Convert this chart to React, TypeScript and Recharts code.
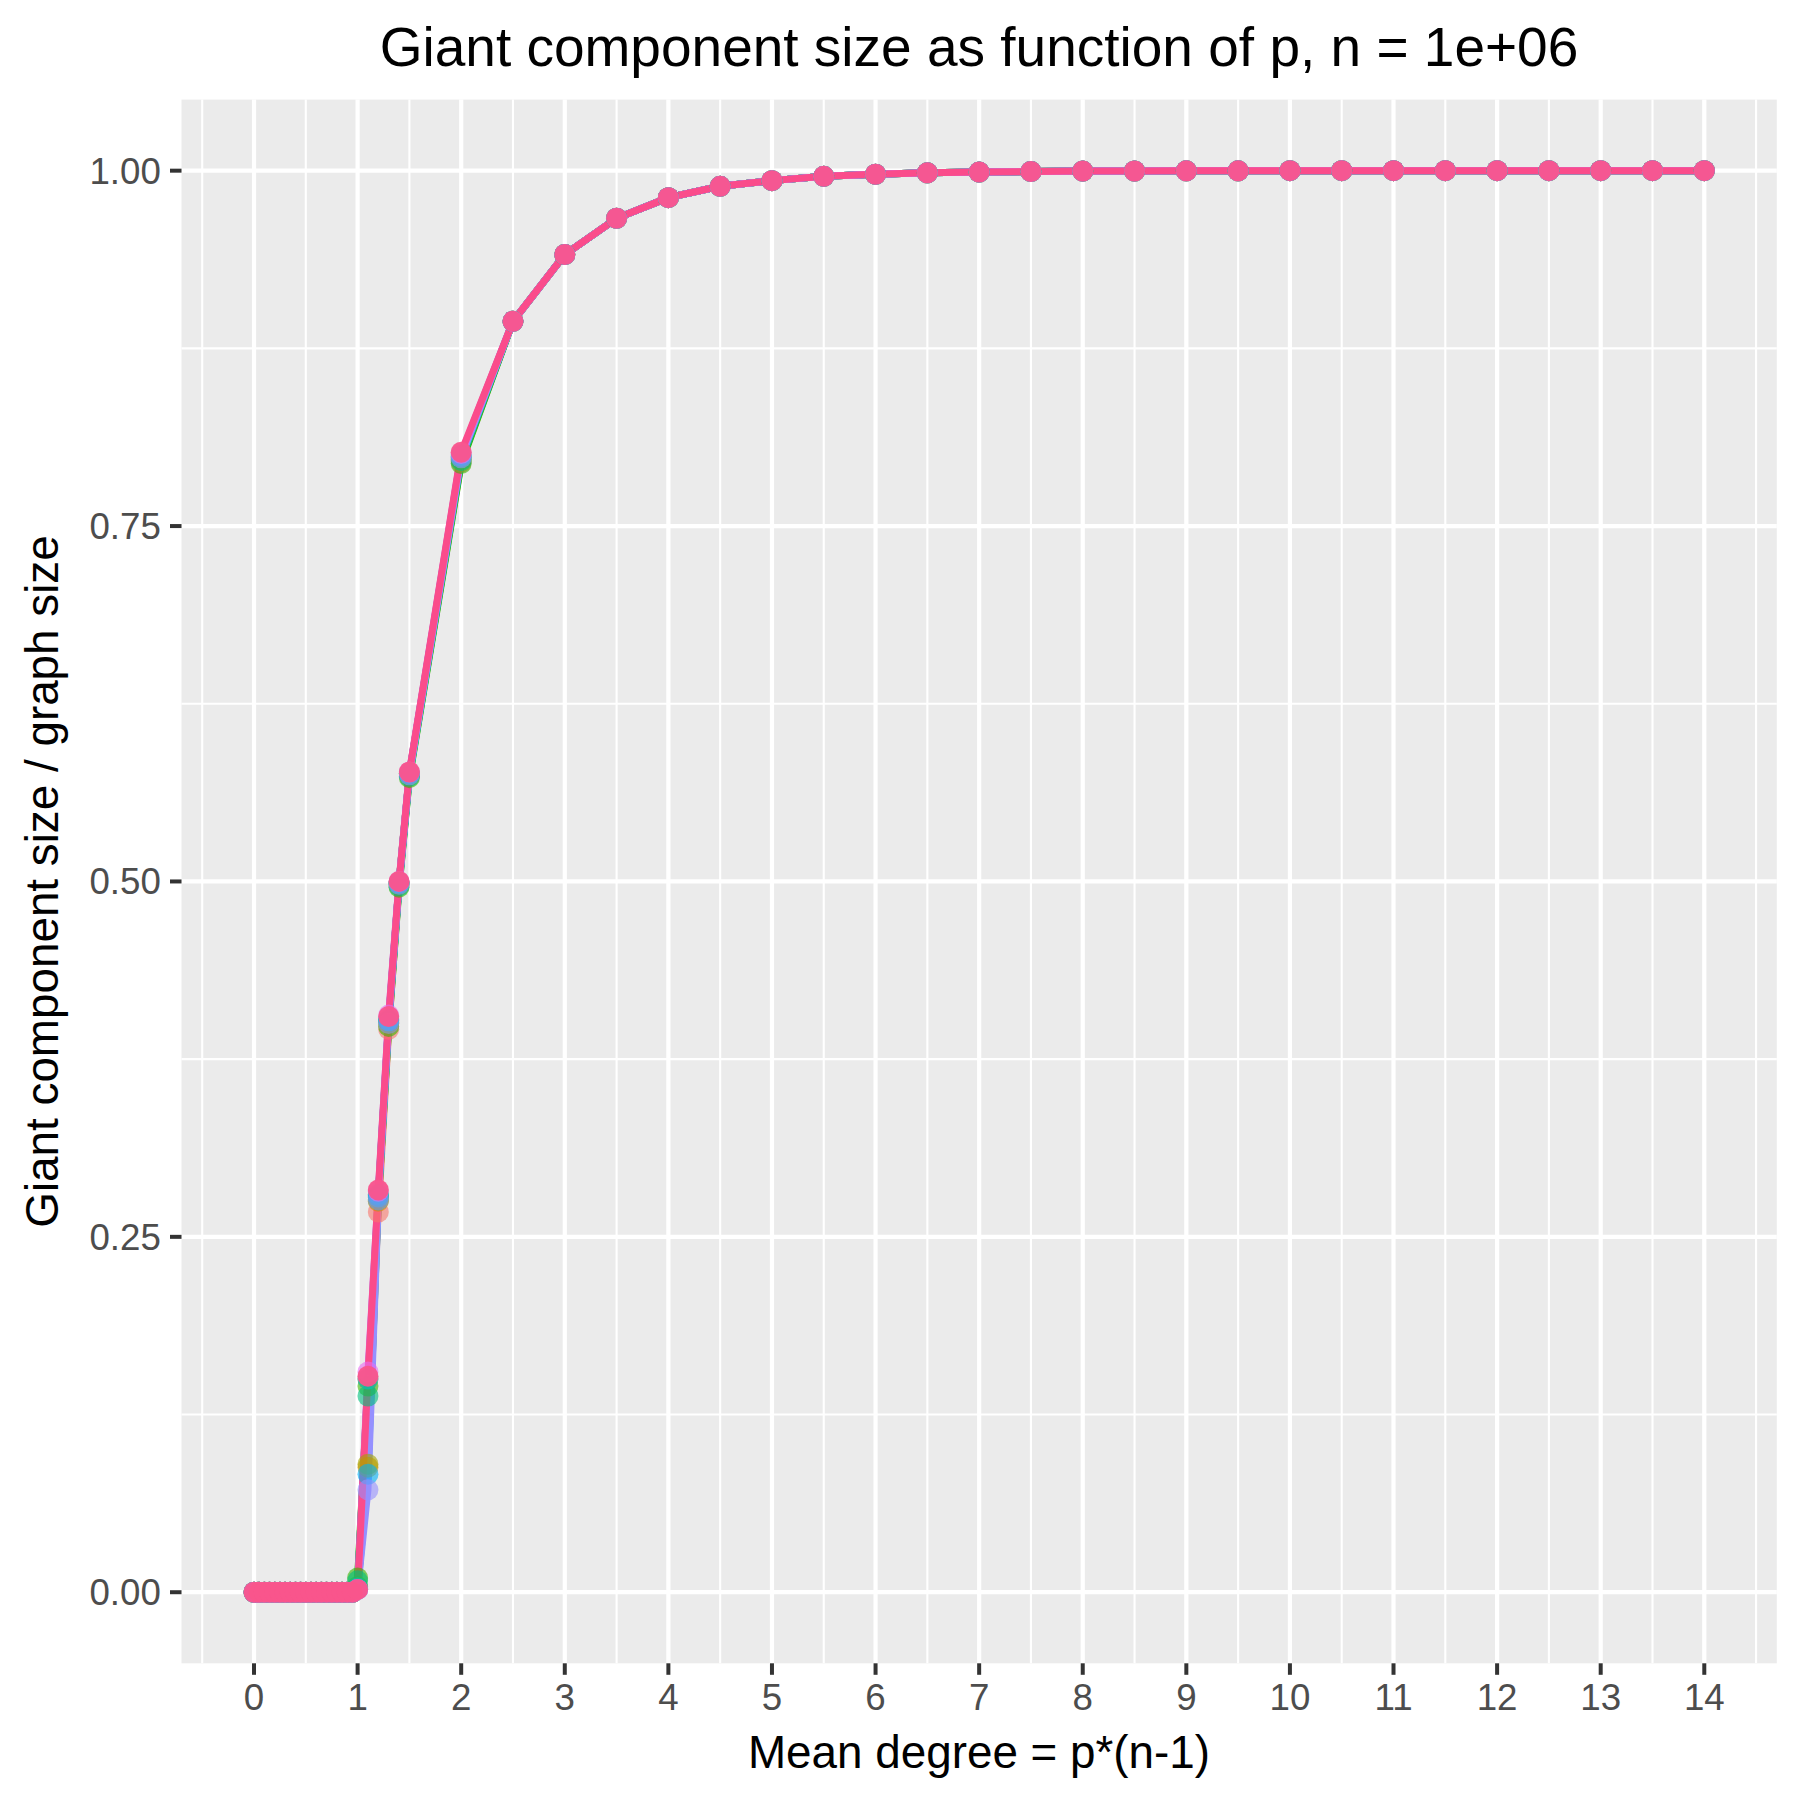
import { ComposedChart, Line, XAxis, YAxis, CartesianGrid } from 'recharts';

// mean degree p*(n-1) at which the graphs were sampled
const meanDegree = [
  0, 0.05, 0.1, 0.15, 0.2, 0.25, 0.3, 0.35, 0.4, 0.45,
  0.5, 0.55, 0.6, 0.65, 0.7, 0.75, 0.8, 0.85, 0.9, 0.95,
  1, 1.1, 1.2, 1.3, 1.4, 1.5, 2,
  2.5, 3, 3.5, 4, 4.5, 5, 5.5, 6, 6.5, 7, 7.5, 8, 8.5, 9,
  9.5, 10, 10.5, 11, 11.5, 12, 12.5, 13, 13.5, 14,
];

// 0 .. 0.95: no giant component in any run
const subcritical = [0, 0, 0, 0, 0, 0, 0, 0, 0, 0, 0, 0, 0, 0, 0, 0, 0, 0, 0, 0];

// 2.5 .. 14: all runs overlap here
const saturated = [
  0.894, 0.941, 0.9665, 0.981, 0.989, 0.993, 0.996, 0.9975, 0.9985, 0.999,
  0.9994, 0.9997, 0.9998, 0.9999, 0.9999, 1, 1, 1, 1, 1, 1, 1, 1, 1,
];

// 1, 1.1, 1.2, 1.3, 1.4, 1.5, 2 for each run
const run1 = [0.003, 0.15, 0.2675, 0.396, 0.498, 0.575, 0.795];
const run2 = [0.003, 0.088, 0.275, 0.4, 0.499, 0.576, 0.797];
const run3 = [0.004, 0.09, 0.278, 0.401, 0.499, 0.576, 0.798];
const run4 = [0.01, 0.145, 0.276, 0.398, 0.496, 0.573, 0.794];
const run5 = [0.008, 0.138, 0.279, 0.402, 0.497, 0.574, 0.796];
const run6 = [0.003, 0.15, 0.28, 0.403, 0.499, 0.576, 0.8];
const run7 = [0.002, 0.083, 0.278, 0.402, 0.499, 0.576, 0.799];
const run8 = [0.002, 0.072, 0.276, 0.4, 0.498, 0.575, 0.798];
const run9 = [0.002, 0.155, 0.282, 0.406, 0.5, 0.577, 0.801];
const run10 = [0.002, 0.152, 0.283, 0.405, 0.5, 0.577, 0.802];

const transitions = [run1, run2, run3, run4, run5, run6, run7, run8, run9, run10];
const runColors = [
  '#F8766D', '#D89000', '#A3A500', '#39B600', '#00BF7D',
  '#00BFC4', '#00B0F6', '#9590FF', '#E76BF3', '#FA4C8B',
];

const xTicks = [0, 1, 2, 3, 4, 5, 6, 7, 8, 9, 10, 11, 12, 13, 14];
const xMinor = [-0.5, 0.5, 1.5, 2.5, 3.5, 4.5, 5.5, 6.5, 7.5, 8.5, 9.5, 10.5, 11.5, 12.5, 13.5, 14.5];
const yTicks = [0, 0.25, 0.5, 0.75, 1];
const yMinor = [0.125, 0.375, 0.625, 0.875];

const rows = meanDegree.map((x, i) => {
  const row: Record<string, number> = { x };
  transitions.forEach((t, k) => {
    row[`run${k + 1}`] = [...subcritical, ...t, ...saturated][i];
  });
  return row;
});

const font = 'Liberation Sans, Arial, Helvetica, sans-serif';

export default function App() {
  const last = transitions.length - 1;
  return (
    <div style={{ position: 'absolute', left: 0, top: 0, width: 1800, height: 1800, background: '#fff', fontFamily: font }}>
      <ComposedChart
        width={1800}
        height={1800}
        data={rows}
        margin={{ top: 99.6, right: 23.2, bottom: 0, left: 0 }}
      >
        <CartesianGrid
          fill="#EBEBEB"
          stroke="#FFFFFF"
          strokeWidth={2.1}
          horizontalValues={yMinor}
          verticalValues={xMinor}
        />
        <CartesianGrid
          fill="none"
          stroke="#FFFFFF"
          strokeWidth={4.2}
          horizontalValues={yTicks}
          verticalValues={xTicks}
        />
        <XAxis
          type="number"
          dataKey="x"
          domain={[-0.7, 14.7]}
          ticks={xTicks}
          interval={0}
          allowDataOverflow
          height={136.7}
          axisLine={false}
          tickSize={11.5}
          tickMargin={9.2}
          tickLine={{ stroke: '#333333', strokeWidth: 4 }}
          tick={{ fill: '#4D4D4D', fontSize: 36.7, fontFamily: font }}
        />
        <YAxis
          type="number"
          domain={[-0.05, 1.05]}
          ticks={yTicks}
          interval={0}
          allowDataOverflow
          width={181.5}
          axisLine={false}
          tickSize={11.5}
          tickMargin={9.2}
          tickLine={{ stroke: '#333333', strokeWidth: 4 }}
          tick={{ fill: '#4D4D4D', fontSize: 36.7, fontFamily: font }}
          tickFormatter={(v: number) => v.toFixed(2)}
        />
        {transitions.map((_, k) => (
          <Line
            key={`pts-${k}`}
            type="linear"
            dataKey={`run${k + 1}`}
            stroke="none"
            strokeWidth={0}
            dot={{ r: 10.5, fill: k === last ? '#F9558C' : runColors[k], fillOpacity: k === last ? 0.95 : 0.6, stroke: 'none' }}
            activeDot={false}
            isAnimationActive={false}
            legendType="none"
          />
        ))}
        {transitions.map((_, k) => (
          <Line
            key={`line-${k}`}
            type="linear"
            dataKey={`run${k + 1}`}
            stroke={runColors[k]}
            strokeWidth={7}
            dot={false}
            activeDot={false}
            isAnimationActive={false}
            legendType="none"
          />
        ))}
      </ComposedChart>
      <svg
        width={1800}
        height={1800}
        style={{ position: 'absolute', left: 0, top: 0, pointerEvents: 'none' }}
      >
        <text x={979} y={66} textAnchor="middle" fontSize={55} fill="#000" fontFamily={font}>
          Giant component size as function of p, n = 1e+06
        </text>
        <text x={979} y={1768} textAnchor="middle" fontSize={45.8} fill="#000" fontFamily={font}>
          Mean degree = p*(n-1)
        </text>
        <text
          x={58}
          y={881.5}
          textAnchor="middle"
          fontSize={45.8}
          fill="#000"
          fontFamily={font}
          transform="rotate(-90 58 881.5)"
        >
          Giant component size / graph size
        </text>
      </svg>
    </div>
  );
}
